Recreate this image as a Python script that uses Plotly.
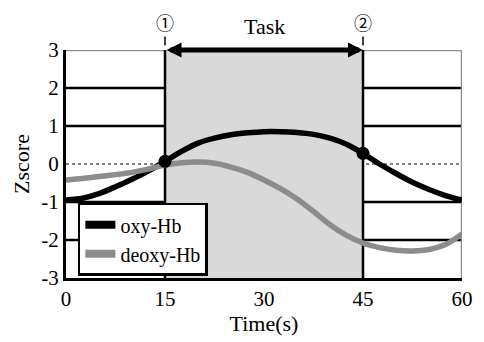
import plotly.graph_objects as go

# Data
time_s = [0, 2.5, 5, 7.5, 10, 12.5, 15, 17.5, 20, 22.5, 25, 27.5, 30,
          32.5, 35, 37.5, 40, 42.5, 45, 47.5, 50, 52.5, 55, 57.5, 60]
oxy_hb = [-0.95, -0.9, -0.78, -0.6, -0.4, -0.18, 0.07, 0.33, 0.55, 0.68, 0.77, 0.82, 0.85,
          0.85, 0.83, 0.78, 0.68, 0.52, 0.28, 0.0, -0.25, -0.48, -0.67, -0.83, -0.95]
deoxy_hb = [-0.42, -0.38, -0.33, -0.28, -0.22, -0.13, -0.03, 0.03, 0.05, 0.02, -0.08, -0.22, -0.42,
            -0.65, -0.92, -1.25, -1.6, -1.88, -2.08, -2.2, -2.27, -2.29, -2.25, -2.12, -1.84]
marker_t = [15, 45]
marker_v = [0.07, 0.28]
task_start, task_end = 15, 45
x_ticks = [0, 15, 30, 45, 60]
y_ticks = [-3, -2, -1, 0, 1, 2, 3]
y_tick_text = ["-3", "-2", "-1", "0", "1", "2", "3"]
grid_solid = [-2, -1, 1, 2]

FONT = "Liberation Serif, Times New Roman, serif"
BLACK = "black"
GREY = "#8c8c8c"

fig = go.Figure()
fig.add_trace(go.Scatter(x=time_s, y=oxy_hb, mode="lines", name="oxy-Hb", showlegend=False,
                         line=dict(color=BLACK, width=5.5, shape="spline", smoothing=0.8)))
fig.add_trace(go.Scatter(x=time_s, y=deoxy_hb, mode="lines", name="deoxy-Hb", showlegend=False,
                         line=dict(color=GREY, width=5.5, shape="spline", smoothing=0.8)))
fig.add_trace(go.Scatter(x=marker_t, y=marker_v, mode="markers", showlegend=False,
                         marker=dict(color=BLACK, size=13)))
# legend entries (thicker samples as in the reference)
fig.add_trace(go.Scatter(x=[None], y=[None], mode="lines", name="oxy-Hb",
                         line=dict(color=BLACK, width=8)))
fig.add_trace(go.Scatter(x=[None], y=[None], mode="lines", name="deoxy-Hb",
                         line=dict(color=GREY, width=8)))

shapes = []
shapes.append(dict(type="rect", xref="x", yref="y", x0=task_start, x1=task_end, y0=-3, y1=3,
                   fillcolor="#d9d9d9", line=dict(width=0), layer="below"))
for g in grid_solid:
    shapes.append(dict(type="line", xref="paper", yref="y", x0=0, x1=1, y0=g, y1=g,
                       line=dict(color=BLACK, width=2.5), layer="below"))
shapes.append(dict(type="line", xref="paper", yref="y", x0=0, x1=1, y0=0, y1=0,
                   line=dict(color=BLACK, width=1.2, dash="dot"), layer="below"))
shapes.append(dict(type="line", xref="paper", yref="y", x0=0, x1=1, y0=3, y1=3,
                   line=dict(color=GREY, width=2.5), layer="below"))
shapes.append(dict(type="line", xref="x", yref="y", x0=60, x1=60, y0=-3, y1=3,
                   line=dict(color=GREY, width=2.5), layer="below"))
for t in (task_start, task_end):
    shapes.append(dict(type="line", xref="x", yref="y", x0=t, x1=t, y0=-3, y1=3,
                       line=dict(color=BLACK, width=2.5), layer="below"))
    shapes.append(dict(type="line", xref="x", yref="paper", x0=t, x1=t, y0=1.02, y1=1.06,
                       line=dict(color=BLACK, width=1.5, dash="dash")))

annotations = [
    dict(x=task_end, y=3, ax=task_start, ay=3, xref="x", yref="y", axref="x", ayref="y",
         text="", showarrow=True, arrowhead=2, arrowsize=0.6, arrowwidth=5,
         arrowside="end+start", arrowcolor=BLACK),
    dict(x=(task_start + task_end) / 2, y=1.04, xref="x", yref="paper", text="Task",
         showarrow=False, yanchor="bottom", font=dict(family=FONT, size=22, color=BLACK)),
    dict(x=task_start, y=1.125, xref="x", yref="paper", text="①", showarrow=False,
         yanchor="middle", font=dict(family="Noto Sans CJK JP", size=18, color=BLACK)),
    dict(x=task_end, y=1.125, xref="x", yref="paper", text="②", showarrow=False,
         yanchor="middle", font=dict(family="Noto Sans CJK JP", size=18, color=BLACK)),
]

fig.update_layout(
    width=476, height=334,
    margin=dict(l=58, r=22, t=42, b=64),
    plot_bgcolor="white", paper_bgcolor="white",
    font=dict(family=FONT, size=21, color=BLACK),
    shapes=shapes, annotations=annotations,
    legend=dict(x=0.03, y=0.01, xanchor="left", yanchor="bottom",
                bgcolor="white", bordercolor=BLACK, borderwidth=2.5,
                font=dict(family=FONT, size=20), tracegroupgap=0, itemwidth=30),
    xaxis=dict(range=[0, 60], tickvals=x_ticks, showgrid=False, zeroline=False,
               showline=True, linecolor=BLACK, linewidth=3, ticks="",
               tickfont=dict(family=FONT, size=21),
               title=dict(text="Time(s)", standoff=2, font=dict(family=FONT, size=22)),
               fixedrange=True),
    yaxis=dict(range=[-3, 3], tickvals=y_ticks, ticktext=y_tick_text, showgrid=False,
               zeroline=False, showline=True, linecolor=BLACK, linewidth=3, ticks="",
               tickfont=dict(family=FONT, size=21),
               title=dict(text="Zscore", standoff=6, font=dict(family=FONT, size=22)),
               fixedrange=True),
)

fig.write_html("out.html")
